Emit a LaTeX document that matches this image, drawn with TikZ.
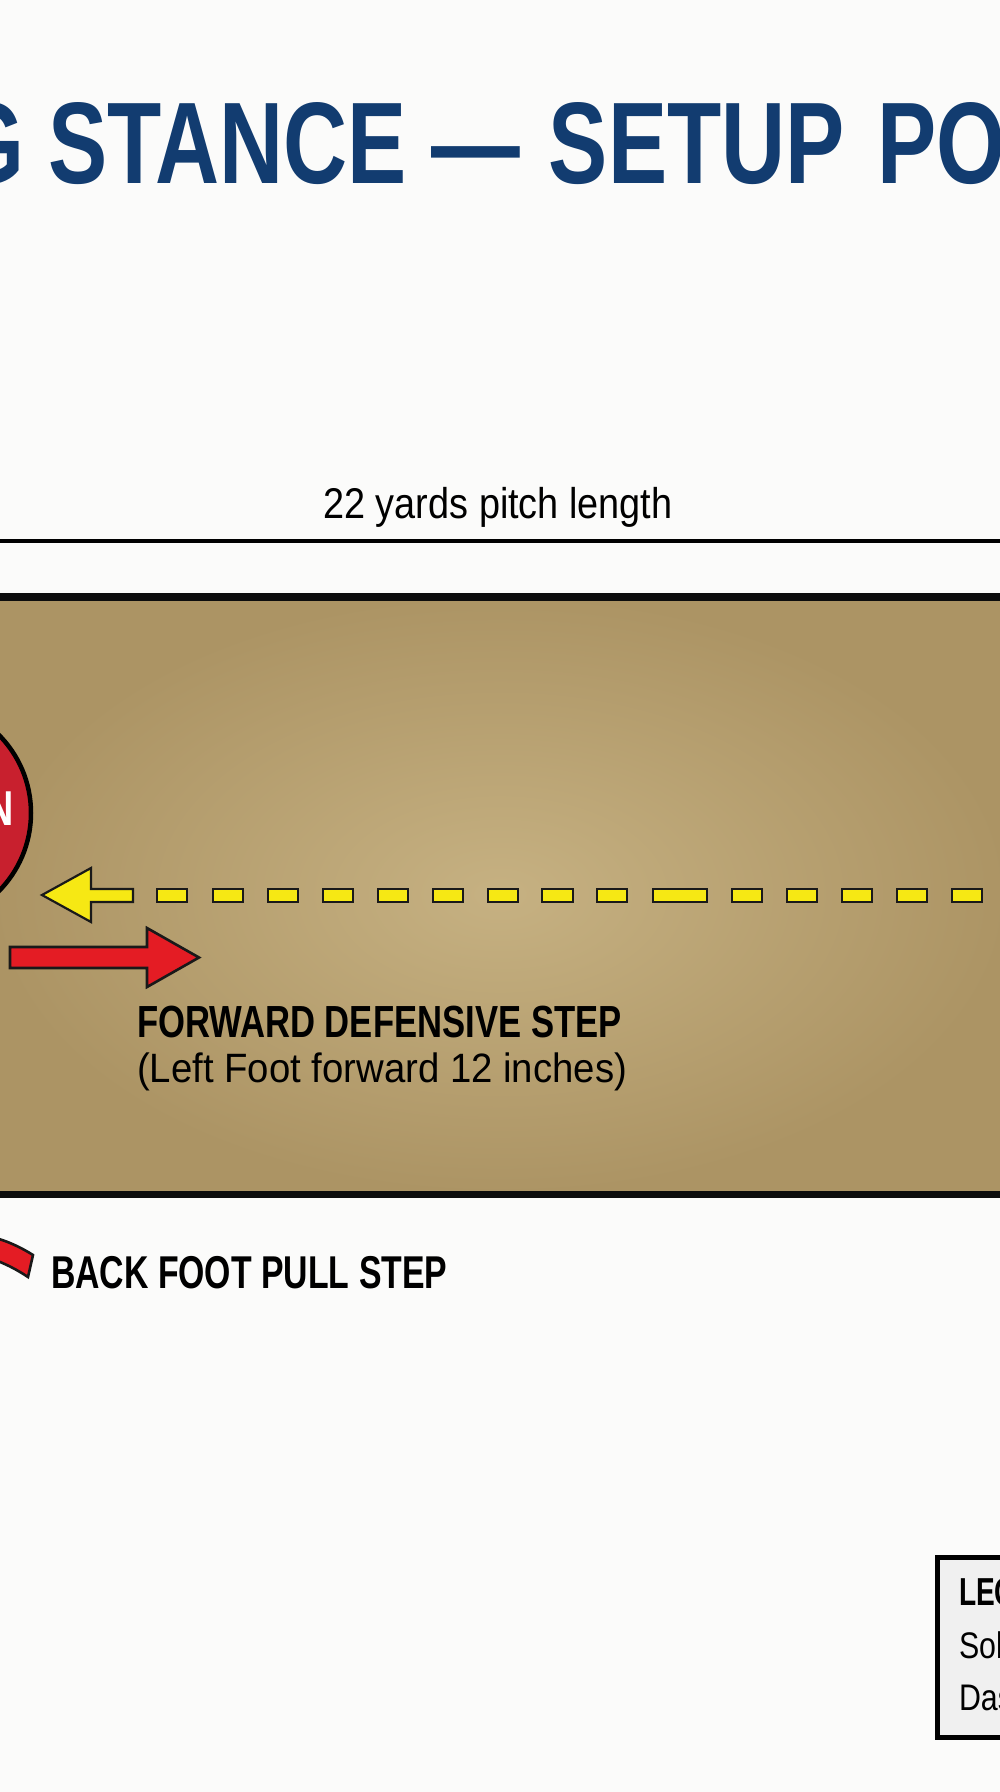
\documentclass[tikz,border=0pt]{standalone}
\usepackage{fontspec}
\setmainfont{Liberation Sans}
\newfontfamily\ttlfont[FakeStretch=0.765]{Liberation Sans}
\newfontfamily\cbold[FakeStretch=0.77]{Liberation Sans}
\newfontfamily\creg[FakeStretch=0.9]{Liberation Sans}
\definecolor{bgwhite}{RGB}{251,251,250}
\definecolor{navy}{RGB}{18,60,112}
\definecolor{pitchlight}{RGB}{198,177,130}
\definecolor{pitchdark}{RGB}{172,148,100}
\definecolor{dashyellow}{RGB}{246,232,20}
\definecolor{arrowred}{RGB}{228,28,36}
\definecolor{circred}{RGB}{200,32,46}
\definecolor{legfill}{RGB}{240,240,240}
\begin{document}
\begin{tikzpicture}[x=1pt,y=-1pt,
  txt/.style={inner sep=0pt, outer sep=0pt},
  dashbox/.style={fill=dashyellow, draw=black!90, line width=2.2pt},
  redshape/.style={fill=arrowred, draw=black!90, line width=2.6pt, line join=miter},
  border/.style={draw=black!95, line width=8pt}]
\useasboundingbox (0,0) rectangle (1000,1792);
\fill[bgwhite] (0,0) rectangle (1000,1792);

% title
\node[txt, anchor=base west, text=navy] (title) at (-45,183)
  {\ttlfont\bfseries\fontsize{116}{120}\selectfont G STANCE — \hspace{4pt}SETUP \hspace{8pt}PO};

% pitch length label and line
\node[txt, anchor=base] (pitchlen) at (498,518)
  {\creg\fontsize{43}{46}\selectfont\addfontfeature{FakeStretch=0.88}22 yards pitch length};
\draw[line width=4pt, black] (-10,541) -- (1010,541);

% pitch
\shade[inner color=pitchlight, outer color=pitchdark] (-10,594) rectangle (1010,1194);
\draw[border] (-10,597) -- (1010,597);
\draw[border, line width=7pt] (-10,1194.5) -- (1010,1194.5);

% batsman circle
\node[circle, minimum size=222pt, fill=circred, draw=black, line width=4.5pt, inner sep=0pt] (bat) at (-80,813) {};
\node[txt, anchor=base east, text=white] (batlbl) at (14,825)
  {\cbold\bfseries\fontsize{49}{52}\selectfont N};

% yellow dashed arrow
\draw[dashbox, line join=miter] (42,895) -- (91,868) -- (91,889) -- (133,889) -- (133,902)
  -- (91,902) -- (91,922) -- cycle;
\foreach \a/\b in {157/187,213/243,268/298,323/353,378/408,433/463,488/518,542/573,
                   597/627,653/707,732/762,787/817,842/872,897/927,952/982}
  \draw[dashbox] (\a,889) rectangle (\b,902);

% red forward arrow
\draw[redshape] (10,947) -- (147,947) -- (147,928) -- (199,957.5) -- (147,987)
  -- (147,968) -- (10,968) -- cycle;

\node[txt, anchor=base west] (fwd) at (137,1037)
  {\cbold\bfseries\fontsize{45}{48}\selectfont FORWARD DEFENSIVE STEP};
\node[txt, anchor=base west] (fwdsub) at (137,1082)
  {\creg\fontsize{41}{44}\selectfont\addfontfeature{FakeStretch=0.935}(Left Foot forward 12 inches)};

% back foot pull step band
\draw[redshape] (-8,1237) .. controls (8,1241) and (22,1248) .. (33,1255)
  -- (28,1277) .. controls (16,1269) and (4,1263) .. (-8,1259) -- cycle;
\node[txt, anchor=base west] (back) at (51,1288)
  {\cbold\bfseries\fontsize{46}{50}\selectfont\addfontfeature{FakeStretch=0.735}BACK FOOT PULL STEP};

% legend
\draw[fill=legfill, draw=black, line width=5pt] (937.5,1557.5) rectangle (1012,1737.5);
\node[txt, anchor=base west] (leg) at (959,1605)
  {\cbold\bfseries\fontsize{39}{40}\selectfont\addfontfeature{FakeStretch=0.72}LEG};
\node[txt, anchor=base west] (leg1) at (959,1658)
  {\creg\fontsize{37}{40}\selectfont\addfontfeature{FakeStretch=0.82}Sol};
\node[txt, anchor=base west] (leg2) at (959,1710)
  {\creg\fontsize{37}{40}\selectfont\addfontfeature{FakeStretch=0.82}Das};
\end{tikzpicture}
\end{document}
